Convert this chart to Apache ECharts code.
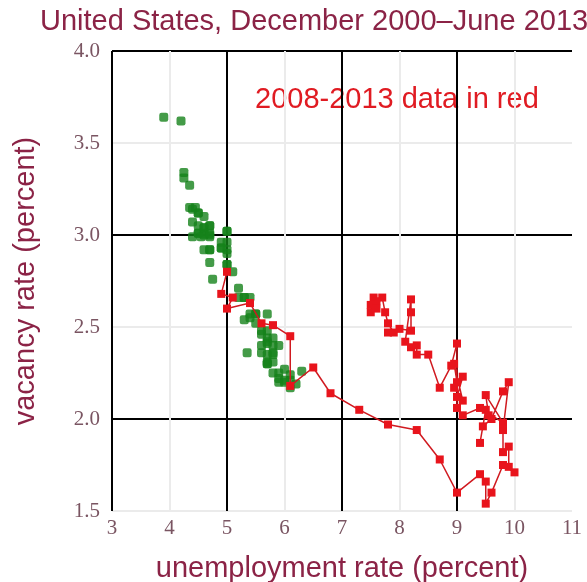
<!DOCTYPE html>
<html>
<head>
<meta charset="utf-8">
<script src="https://cdn.jsdelivr.net/npm/echarts@6/dist/echarts.min.js"></script>
<style>
  html, body { margin: 0; padding: 0; background: #fff; }
  #main { width: 587px; height: 582px; }
</style>
</head>
<body>
<div id="main"></div>
<script>
// x ticks (unemployment %) and y ticks (vacancy %)
var xTicks = [3, 4, 5, 6, 7, 8, 9, 10, 11];
var yTicks = [1.5, 2.0, 2.5, 3.0, 3.5, 4.0];

// Dec 2000 - Dec 2007, [unemployment, vacancy]
var greenPoints = [
  [3.9, 3.64],
  [4.2, 3.62], [4.25, 3.34], [4.25, 3.31], [4.35, 3.27], [4.35, 3.15], [4.5, 3.01],
  [4.6, 2.92], [4.9, 2.93], [5.0, 2.84], [5.3, 2.66], [5.5, 2.57], [5.7, 2.57],
  [5.7, 2.44], [5.7, 2.48], [5.7, 2.41], [5.9, 2.40], [5.8, 2.36], [5.8, 2.40],
  [5.8, 2.35], [5.7, 2.31], [5.7, 2.35], [5.7, 2.30], [5.9, 2.25], [6.0, 2.27],
  [5.8, 2.31], [5.9, 2.22], [5.9, 2.20], [6.0, 2.21], [6.1, 2.24], [6.3, 2.26],
  [6.2, 2.19], [6.1, 2.21], [6.1, 2.17], [6.0, 2.20], [5.8, 2.25], [5.7, 2.30],
  [5.7, 2.42], [5.6, 2.40], [5.8, 2.44], [5.6, 2.48], [5.35, 2.36], [5.6, 2.46],
  [5.5, 2.52], [5.4, 2.55], [5.6, 2.36], [5.5, 2.57], [5.4, 2.57], [5.3, 2.54],
  [5.3, 2.66], [5.4, 2.66], [5.2, 2.71], [5.2, 2.66], [5.1, 2.80], [5.0, 2.84],
  [5.0, 2.90], [4.9, 2.93], [5.0, 2.92], [5.0, 2.96], [5.0, 3.02], [4.9, 2.96],
  [4.7, 2.85], [4.75, 2.76], [4.7, 2.92], [4.7, 3.00], [4.6, 3.04], [4.6, 3.01],
  [4.7, 3.05], [4.7, 2.99], [4.5, 3.05], [4.4, 3.14], [4.5, 3.12], [4.4, 3.07],
  [4.6, 3.10], [4.5, 3.12], [4.4, 2.99], [4.5, 3.01], [4.45, 3.15], [4.6, 3.04],
  [4.7, 3.05], [4.6, 3.00], [4.7, 2.92], [4.7, 3.01], [4.55, 2.99], [5.0, 3.02]
];

// Jan 2008 - Jun 2013, [unemployment, vacancy]
var redPoints = [
  [5.0, 2.80], [4.9, 2.68], [5.1, 2.66], [5.0, 2.60], [5.4, 2.63], [5.6, 2.52],
  [5.8, 2.51], [6.1, 2.45], [6.1, 2.18], [6.5, 2.28], [6.8, 2.14], [7.3, 2.05],
  [7.8, 1.97], [8.3, 1.94], [8.7, 1.78], [9.0, 1.60], [9.4, 1.70], [9.5, 1.66],
  [9.5, 1.54], [9.6, 1.60], [9.8, 1.75], [10.0, 1.71], [9.9, 1.74], [9.9, 1.85],
  [9.8, 1.82], [9.8, 1.94], [9.9, 2.20], [9.8, 2.15], [9.6, 2.00], [9.45, 1.96],
  [9.4, 1.87], [9.5, 2.05], [9.55, 2.02], [9.5, 2.13], [9.8, 1.98], [9.4, 2.06],
  [9.1, 2.02], [9.0, 2.06], [9.0, 2.12], [9.1, 2.23], [8.95, 2.17], [9.1, 2.10],
  [8.95, 2.30], [9.0, 2.20], [9.0, 2.41], [8.9, 2.29], [8.7, 2.17], [8.5, 2.35],
  [8.3, 2.35], [8.3, 2.40], [8.2, 2.39], [8.1, 2.42], [8.2, 2.65], [8.2, 2.58],
  [8.2, 2.48], [8.0, 2.49], [7.8, 2.47], [7.9, 2.47], [7.8, 2.52], [7.75, 2.58],
  [7.7, 2.66], [7.5, 2.58], [7.55, 2.66], [7.6, 2.64], [7.5, 2.62], [7.6, 2.60]
];

var maroon = '#8b2346';
var tickColor = '#7a5562';

var myChart = echarts.init(document.getElementById('main'));

myChart.setOption({
  animation: false,
  title: {
    text: 'United States, December 2000\u2013June 2013',
    left: 35,
    top: 2,
    textStyle: { color: maroon, fontFamily: 'Liberation Sans', fontSize: 29, fontWeight: 'normal' }
  },
  graphic: [{
    type: 'text',
    left: 255,
    top: 85,
    style: { text: '2008-2013 data in red', fill: '#e01b22', font: '29px "Liberation Sans"' }
  }],
  grid: { left: 112, right: 15, top: 51, bottom: 71, outerBoundsMode: 'none' },
  xAxis: {
    type: 'value',
    min: xTicks[0],
    max: xTicks[xTicks.length - 1],
    interval: 1,
    name: 'unemployment rate (percent)',
    nameLocation: 'middle',
    nameGap: 43,
    nameTextStyle: { color: maroon, fontFamily: 'Liberation Sans', fontSize: 29 },
    axisLine: { show: false },
    axisTick: { show: false },
    axisLabel: { color: tickColor, fontFamily: 'Liberation Serif', fontSize: 21, margin: 7 },
    splitLine: {
      show: true,
      showMaxLine: false,
      lineStyle: { color: ['#000', '#ebebeb'], width: 2 }
    }
  },
  yAxis: {
    type: 'value',
    min: yTicks[0],
    max: yTicks[yTicks.length - 1],
    interval: 0.5,
    name: 'vacancy rate (percent)',
    nameLocation: 'middle',
    nameGap: 72,
    nameTextStyle: { color: maroon, fontFamily: 'Liberation Sans', fontSize: 29 },
    axisLine: { show: false },
    axisTick: { show: false },
    axisLabel: {
      color: tickColor, fontFamily: 'Liberation Serif', fontSize: 21, margin: 12,
      formatter: function (v) { return v.toFixed(1); }
    },
    splitLine: {
      show: true,
      lineStyle: { color: ['#ebebeb', '#000'], width: 2 }
    }
  },
  series: [
    {
      name: '2000-2007',
      type: 'scatter',
      data: greenPoints,
      symbol: 'roundRect',
      symbolSize: 9,
      itemStyle: { color: '#15821a' },
      z: 2
    },
    {
      name: '2008-2013',
      type: 'line',
      data: redPoints,
      symbol: 'rect',
      symbolSize: 8,
      showAllSymbol: true,
      lineStyle: { color: '#d01a20', width: 1.5 },
      itemStyle: { color: '#e8141c' },
      z: 3
    }
  ]
});
</script>
</body>
</html>
